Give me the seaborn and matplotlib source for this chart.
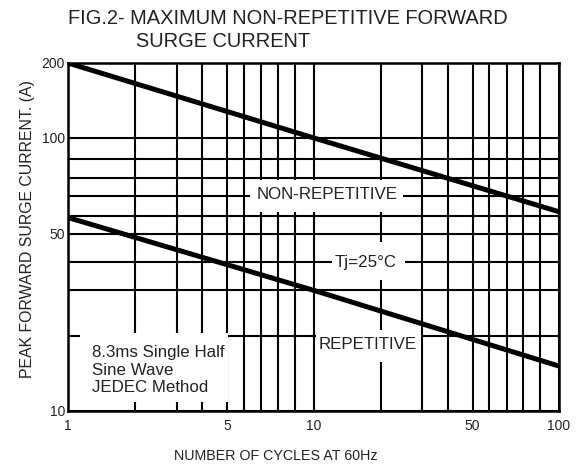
import numpy as np
import pandas as pd
import matplotlib
matplotlib.use("Agg")
import matplotlib.pyplot as plt
from matplotlib.patches import Rectangle
import seaborn as sns

# ---- data ----
cycles = [1, 10, 100]
non_repetitive = [200, 100, 62]
repetitive = [59, 30, 16]
series_names = ["NON-REPETITIVE", "REPETITIVE"]

x_major = [1, 5, 10, 50, 100]
x_minor = [2, 3, 4, 6, 7, 8, 9, 20, 30, 40, 60, 70, 80, 90]
y_major = [10, 50, 100, 200]
y_minor = [20, 30, 40, 60, 70, 80, 90]

# ---- style ----
sns.set_theme(style="white")
plt.rcParams["font.family"] = ["Liberation Sans", "DejaVu Sans"]
TXT = "#222222"

# the chart's (hand drawn) logarithmic grid: position of digits 1..10 within a decade
DIG = np.arange(1, 11, dtype=float)
FRAC = np.array([0.0, 0.274, 0.442, 0.546, 0.648, 0.715, 0.787, 0.854, 0.924, 1.0])


def fwd(v):
    v = np.asarray(v, dtype=float)
    safe = np.where(v > 0, v, 1e-10)
    k = np.floor(np.log10(safe) + 1e-12)
    m = safe / 10.0 ** k
    return k + np.interp(m, DIG, FRAC)


def inv(p):
    p = np.asarray(p, dtype=float)
    k = np.floor(p)
    r = p - k
    return np.interp(r, FRAC, DIG) * 10.0 ** k


df = pd.DataFrame({
    "cycles": cycles * 2,
    "current": non_repetitive + repetitive,
    "series": [series_names[0]] * len(cycles) + [series_names[1]] * len(cycles),
})

fig = plt.figure(figsize=(5.85, 4.70), dpi=100)
ax = fig.add_axes([68 / 585, 1 - 411 / 470, 491 / 585, 348 / 470])

sns.lineplot(data=df, x="cycles", y="current", hue="series",
             palette=["black", "black"], estimator=None, sort=False,
             linewidth=3.6, legend=False, ax=ax, zorder=5)

ax.set_xscale("function", functions=(fwd, inv))
ax.set_yscale("function", functions=(fwd, inv))
ax.set_xlim(1, 100)
ax.set_ylim(10, 200)

ax.set_xticks(x_major)
ax.set_xticklabels([str(v) for v in x_major])
ax.set_xticks(x_minor, minor=True)
ax.set_yticks(y_major)
ax.set_yticklabels([str(v) for v in y_major])
ax.set_yticks(y_minor, minor=True)

ax.grid(True, which="both", color="black", linewidth=1.5)
ax.set_axisbelow(True)
ax.tick_params(which="both", length=0)
ax.tick_params(axis="x", pad=5.5, labelsize=10, labelcolor=TXT)
ax.tick_params(axis="y", pad=2.2, labelsize=10, labelcolor=TXT)
for s in ax.spines.values():
    s.set_color("black")
    s.set_linewidth(1.8)

# white label boxes that interrupt the grid
boxes = [
    (0.0244, 0.0259, 0.3259, 0.2241),
    (0.3707, 0.5718, 0.6823, 0.6638),
    (0.5377, 0.3764, 0.6864, 0.4856),
    (0.5051, 0.1408, 0.7189, 0.2328),
]
for x0, y0, x1, y1 in boxes:
    ax.add_patch(Rectangle((x0, y0), x1 - x0, y1 - y0, transform=ax.transAxes,
                           facecolor="white", edgecolor="none", zorder=3))

fs = 12.2
ax.text(0.5275, 0.6207, "NON-REPETITIVE", transform=ax.transAxes, ha="center",
        va="center", fontsize=fs, color=TXT, zorder=6)
ax.text(0.6069, 0.4253, "Tj=25°C", transform=ax.transAxes, ha="center",
        va="center", fontsize=fs, color=TXT, zorder=6)
ax.text(0.611, 0.1897, "REPETITIVE", transform=ax.transAxes, ha="center",
        va="center", fontsize=fs, color=TXT, zorder=6)
ax.text(0.0489, 0.1178, "8.3ms Single Half\nSine Wave\nJEDEC Method",
        transform=ax.transAxes, ha="left", va="center", fontsize=fs,
        color=TXT, linespacing=1.2, zorder=6)

ax.set_xlabel("NUMBER OF CYCLES AT 60Hz", fontsize=10.3, color=TXT)
ax.xaxis.set_label_coords((276 - 68) / 491, (411 - 449) / 348)
ax.set_ylabel("PEAK FORWARD SURGE CURRENT. (A)", fontsize=11.4, color=TXT)
ax.yaxis.set_label_coords((35 - 68) / 491, (411 - 229) / 348)

fig.text(68 / 585, 1 - 24 / 470, "FIG.2- MAXIMUM NON-REPETITIVE FORWARD",
         ha="left", va="baseline", fontsize=14.4, color=TXT)
fig.text(136 / 585, 1 - 47 / 470, "SURGE CURRENT",
         ha="left", va="baseline", fontsize=14.4, color=TXT)

fig.savefig("out.png", dpi=100, facecolor="white")
